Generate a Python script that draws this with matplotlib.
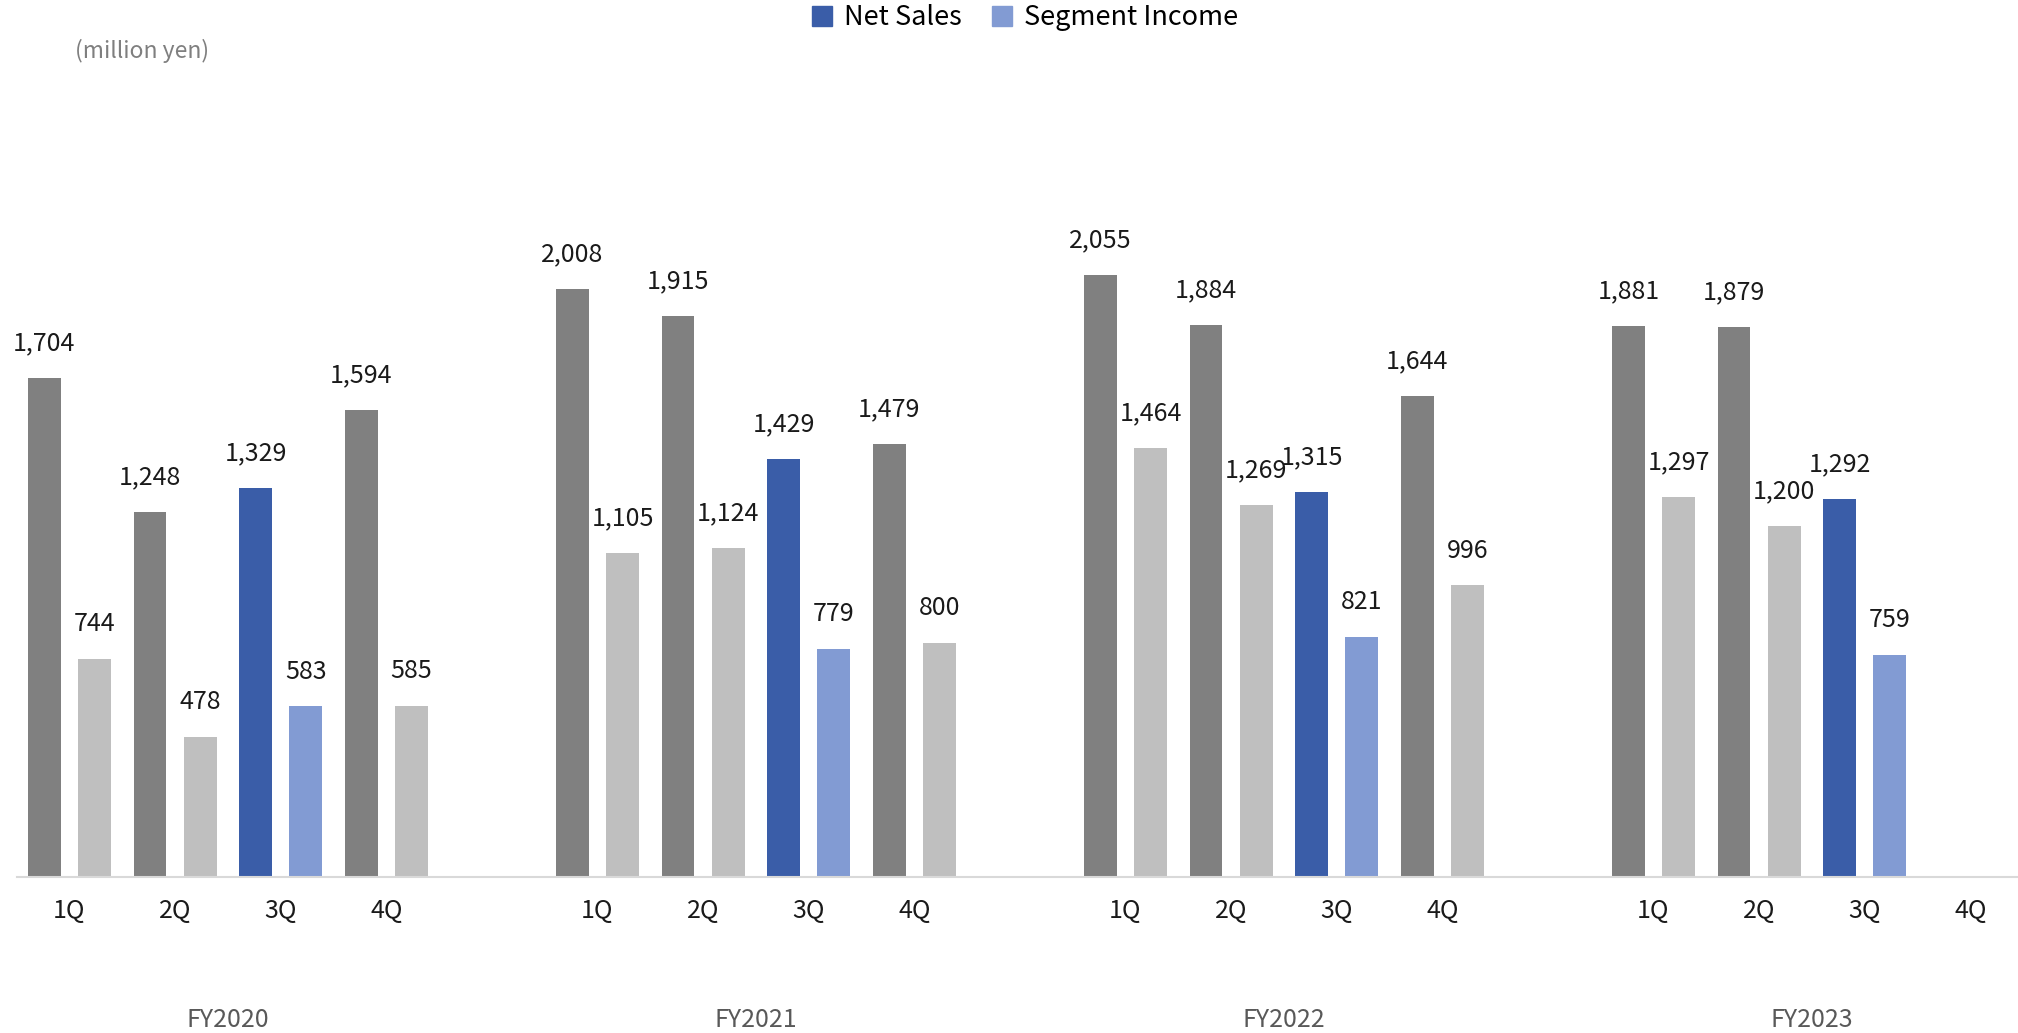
import numpy as np
import matplotlib
matplotlib.use("Agg")
from matplotlib import pyplot as plt
from matplotlib.patches import Patch
from matplotlib.transforms import blended_transform_factory

plt.rcParams['font.family'] = ['Noto Sans CJK JP', 'DejaVu Sans']

years = ["FY2020", "FY2021", "FY2022", "FY2023"]
quarters = ["1Q", "2Q", "3Q", "4Q"]

net_sales = [
    [1704, 1248, 1329, 1594],
    [2008, 1915, 1429, 1479],
    [2055, 1884, 1315, 1644],
    [1881, 1879, 1292, None],
]
segment_income = [
    [744, 478, 583, 585],
    [1105, 1124, 779, 800],
    [1464, 1269, 821, 996],
    [1297, 1200, 759, None],
]

dark_gray = "#808080"
light_gray = "#BFBFBF"
blue = "#3A5DA8"
light_blue = "#829BD3"

W, H = 2018, 1033
fig = plt.figure(figsize=(W / 100, H / 100), dpi=100)
# plot area: left edge at 16.7px, 19 category slots of 105.6px, baseline at y=877
ax = fig.add_axes([16.7 / W, (H - 877) / H, 19 * 105.6 / W, (877 - 145) / H])

bw = 0.31
off = 0.238
xticks = []
xlabels = []
for yi, year in enumerate(years):
    for qi, q in enumerate(quarters):
        x = yi * 5 + qi
        xticks.append(x)
        xlabels.append(q)
        ns = net_sales[yi][qi]
        si = segment_income[yi][qi]
        c1, c2 = (blue, light_blue) if q == "3Q" else (dark_gray, light_gray)
        if ns is not None:
            ax.bar(x - off, ns, width=bw, color=c1)
            ax.annotate(f"{ns:,}", (x - off, ns), xytext=(0, 25), textcoords="offset points",
                        ha="center", va="center", fontsize=18, color="#1a1a1a")
        if si is not None:
            ax.bar(x + off, si, width=bw, color=c2)
            ax.annotate(f"{si:,}", (x + off, si), xytext=(0, 25), textcoords="offset points",
                        ha="center", va="center", fontsize=18, color="#1a1a1a")

ax.set_xlim(-0.5, 18.5)
ax.set_ylim(0, 2500)
ax.set_yticks([])
ax.set_xticks(xticks)
ax.set_xticklabels(xlabels, fontsize=18, color="#1a1a1a")
ax.tick_params(axis="x", length=0, pad=15)
for s in ["top", "right", "left"]:
    ax.spines[s].set_visible(False)
ax.spines["bottom"].set_color("#D9D9D9")
ax.spines["bottom"].set_linewidth(1.5)

trans = blended_transform_factory(ax.transData, fig.transFigure)
for yi, year in enumerate(years):
    cx = yi * 5 + 1.5
    fig.text(cx, 1 - 1020 / H, year, transform=trans, ha="center", va="center",
             fontsize=18, color="#595959")

fig.text(75 / W, 1 - 51 / H, "(million yen)", ha="left", va="center", fontsize=16.5, color="#7f7f7f")

handles = [Patch(color=blue, label="Net Sales"), Patch(color=light_blue, label="Segment Income")]
fig.legend(handles=handles, loc="center", bbox_to_anchor=(0.508, 1 - 18 / H), ncol=2, frameon=False,
           fontsize=19.5, handlelength=0.75, handleheight=0.75, handletextpad=0.45, columnspacing=1.1)

fig.savefig("out.png", dpi=100)
